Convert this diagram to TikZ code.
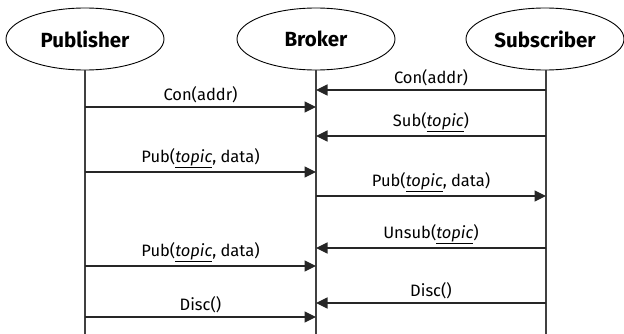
\documentclass[tikz,border=0pt]{standalone}
\usepackage{fontspec}
\setmainfont{Fira Sans}
\usetikzlibrary{shapes.geometric,arrows.meta}
\begin{document}
\begin{tikzpicture}[x=1pt,y=-1pt,
  actor/.style={ellipse,draw,line width=0.9pt,minimum width=158pt,minimum height=62pt,inner sep=0pt,font=\bfseries\fontsize{20.5}{22}\selectfont},
  life/.style={line width=1.1pt,draw=black!75},
  msg/.style={line width=1.1pt,draw=black!85,-{Triangle[length=11.5pt,width=11pt]}},
  lbl/.style={font=\fontsize{16.5}{18}\selectfont,above=0pt,midway}]
\useasboundingbox (0,0) rectangle (624,334);
\newcommand{\tpc}{\underline{\textit{topic}}}
% participants
\node[actor] (pub) at (85,39) {Publisher};
\node[actor] (bro) at (316,39) {Broker};
\node[actor] (sub) at (545,39) {Subscriber};
% lifelines
\coordinate (pubE) at (85,334);
\coordinate (broE) at (316,334);
\coordinate (subE) at (546,334);
\draw[life] (pub.south) -- (pubE);
\draw[life] (bro.south) -- (broE);
\draw[life] (546,70) -- (subE);
% message endpoints
\foreach \n/\y in {a/107,b/90,c/136,d/172,e/196,f/248,g/266,h/303,i/317}{
  \coordinate (p\n) at (85,\y);
  \coordinate (k\n) at (316,\y);
  \coordinate (s\n) at (546,\y);
}
% messages
\draw[msg] (pa) -- node[lbl]{Con(addr)} (ka);
\draw[msg] (sb) -- node[lbl]{Con(addr)} (kb);
\draw[msg] (sc) -- node[lbl]{Sub(\tpc)} (kc);
\draw[msg] (pd) -- node[lbl]{Pub(\tpc, data)} (kd);
\draw[msg] (ke) -- node[lbl]{Pub(\tpc, data)} (se);
\draw[msg] (sf) -- node[lbl]{Unsub(\tpc)} (kf);
\draw[msg] (pg) -- node[lbl]{Pub(\tpc, data)} (kg);
\draw[msg] (sh) -- node[lbl]{Disc()} (kh);
\draw[msg] (pi) -- node[lbl]{Disc()} (ki);
\end{tikzpicture}
\end{document}
